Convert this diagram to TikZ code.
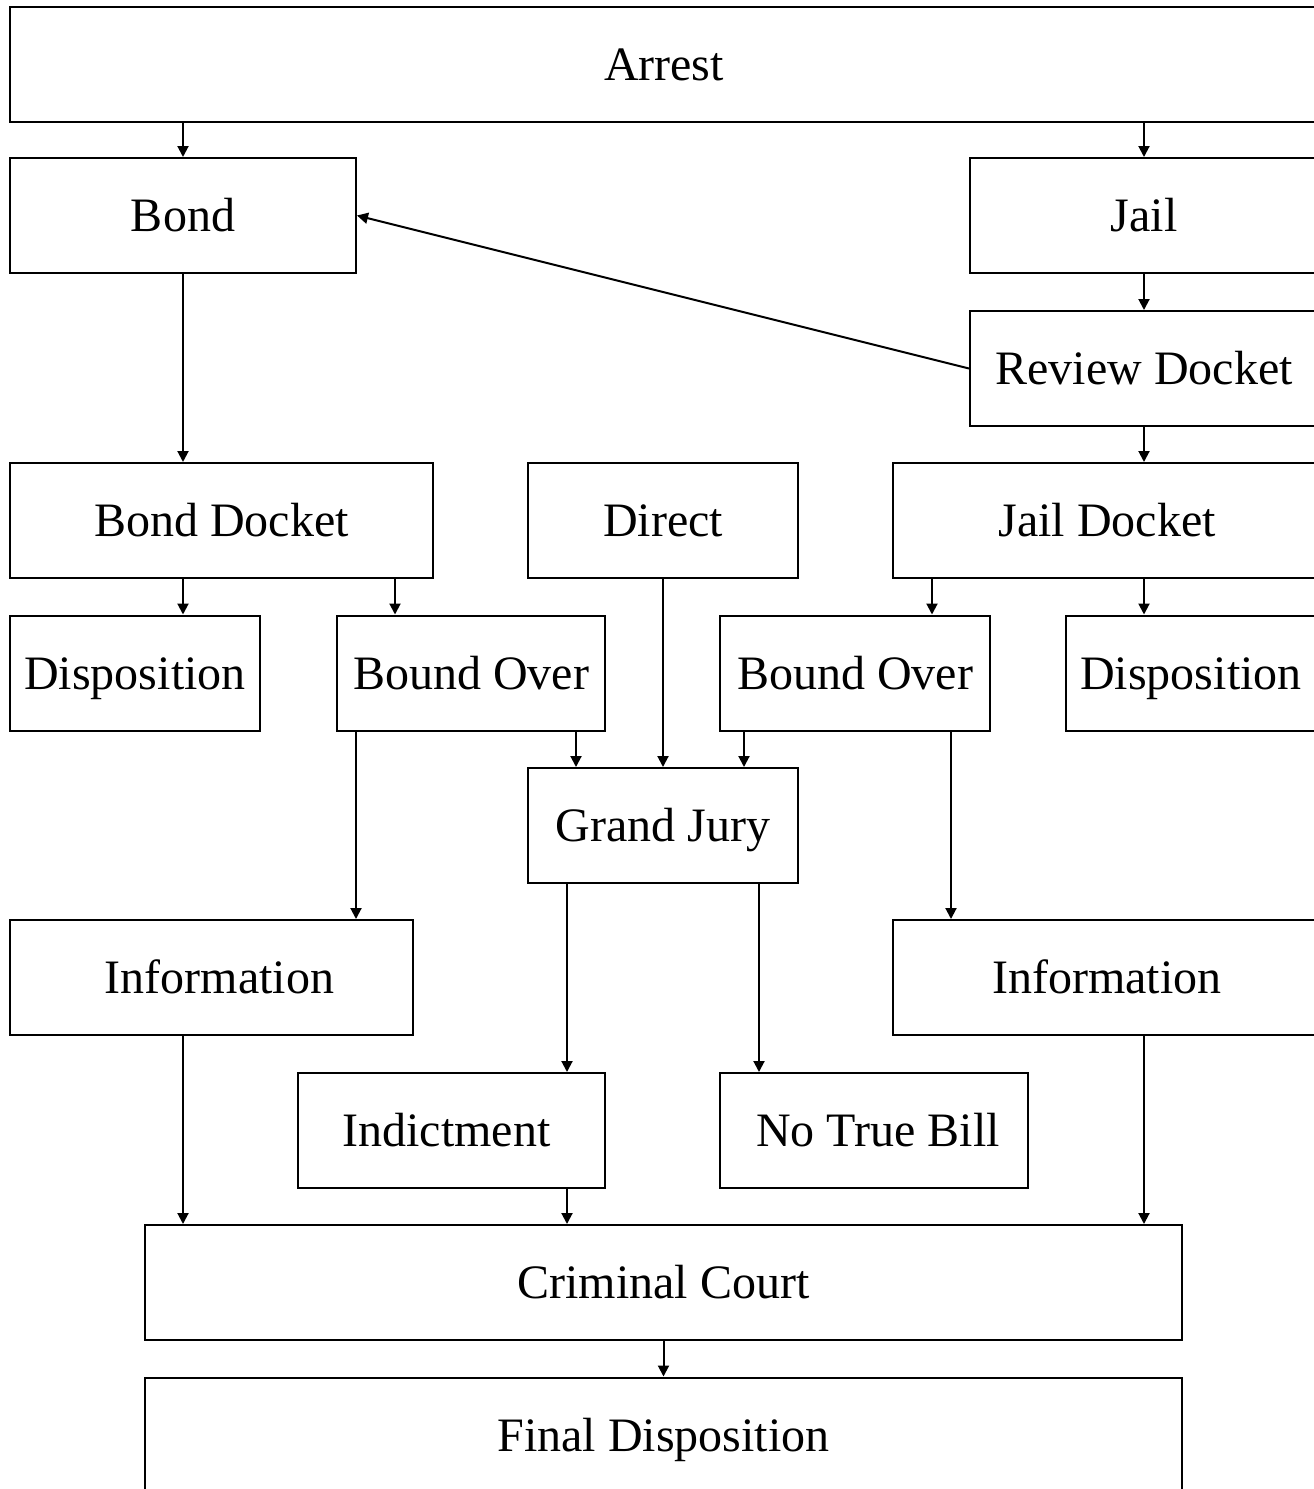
\documentclass[tikz,border=0pt]{standalone}
\usepackage{fontspec}
\setmainfont{Liberation Serif}
\usepackage{tikz}
\usetikzlibrary{arrows.meta}

\begin{document}
\begin{tikzpicture}[x=1pt, y=-1pt, >={Triangle[width=11pt,length=11pt]}]
	\tikzstyle{stage} = [rectangle, draw=black, line width=2pt, minimum height=115pt, inner sep=0pt, text height=32.5pt, text depth=0pt, font=\fontsize{48}{56}\selectfont];
	\tikzstyle{flow} = [draw=black, line width=2pt, ->];

	\useasboundingbox (0,0) rectangle (1314,1489);

	\node[stage, minimum width=1308pt](arrest) at (664,64) {Arrest};
	\node[stage, minimum width=346pt](bond) at (183,215.5) {Bond};
	\node[stage, minimum width=348pt](jail) at (1144,215.5) {Jail};
	\node[stage, minimum width=348pt](review) at (1144,368.5) {Review Docket};
	\node[stage, minimum width=423pt](bonddocket) at (221.5,520.5) {Bond Docket};
	\node[stage, minimum width=270pt](direct) at (663,520.5) {Direct};
	\node[stage, minimum width=428pt](jaildocket) at (1107,520.5) {Jail Docket};
	\node[stage, minimum width=250pt](disp1) at (135,673) {Disposition};
	\node[stage, minimum width=268pt](bound1) at (471,673) {Bound Over};
	\node[stage, minimum width=270pt](bound2) at (855,673) {Bound Over};
	\node[stage, minimum width=250pt](disp2) at (1191,673) {Disposition};
	\node[stage, minimum width=270pt](grandjury) at (663,825.5) {Grand Jury};
	\node[stage, minimum width=403pt](info1) at (211.5,977.5) {\hspace{16pt}Information};
	\node[stage, minimum width=428pt](info2) at (1107,977.5) {Information};
	\node[stage, minimum width=307pt](indict) at (451.5,1130.5) {\hspace{-10pt}Indictment};
	\node[stage, minimum width=308pt](notrue) at (874,1130.5) {\,No True Bill};
	\node[stage, minimum width=1037pt](court) at (663.5,1282.5) {Criminal Court};
	\node[stage, minimum width=1037pt](final) at (663.5,1435) {Final Disposition};

	\path[every edge/.style=flow] (183,0 |- arrest.south) edge (183,0 |- bond.north)
		(1144,0 |- arrest.south) edge (1144,0 |- jail.north)
		(jail.south) edge (review.north)
		(review.west) edge (bond.east)
		(183,0 |- bond.south) edge (183,0 |- bonddocket.north)
		(1144,0 |- review.south) edge (1144,0 |- jaildocket.north)
		(183,0 |- bonddocket.south) edge (183,0 |- disp1.north)
		(395,0 |- bonddocket.south) edge (395,0 |- bound1.north)
		(932,0 |- jaildocket.south) edge (932,0 |- bound2.north)
		(1144,0 |- jaildocket.south) edge (1144,0 |- disp2.north)
		(576,0 |- bound1.south) edge (576,0 |- grandjury.north)
		(direct.south) edge (grandjury.north)
		(744,0 |- bound2.south) edge (744,0 |- grandjury.north)
		(356,0 |- bound1.south) edge (356,0 |- info1.north)
		(951,0 |- bound2.south) edge (951,0 |- info2.north)
		(567,0 |- grandjury.south) edge (567,0 |- indict.north)
		(759,0 |- grandjury.south) edge (759,0 |- notrue.north)
		(183,0 |- info1.south) edge (183,0 |- court.north)
		(567,0 |- indict.south) edge (567,0 |- court.north)
		(1144,0 |- info2.south) edge (1144,0 |- court.north)
		(court.south) edge (final.north);
\end{tikzpicture}
\end{document}
